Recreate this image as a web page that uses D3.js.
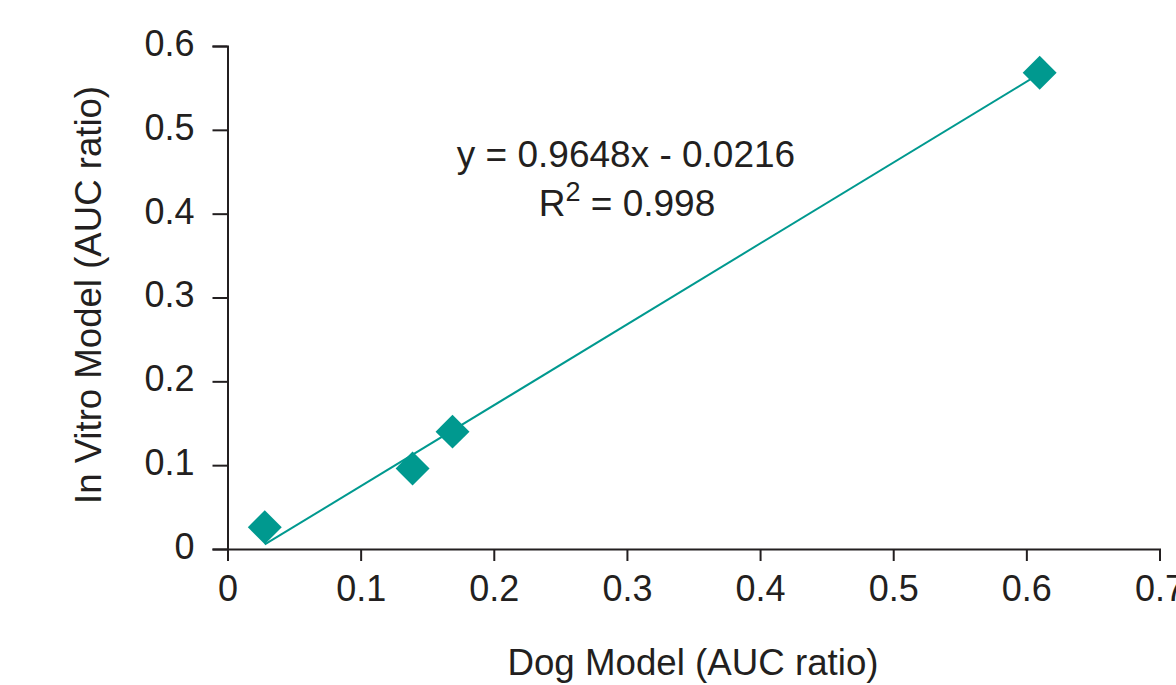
<!DOCTYPE html>
<html><head><meta charset="utf-8">
<script src="https://cdn.jsdelivr.net/npm/d3@7"></script>
<style>
html,body{margin:0;padding:0;background:#fff;}
svg{display:block;}
text{font-family:"Liberation Sans",Arial,Helvetica,sans-serif;fill:#231F20;}
</style></head>
<body>
<svg id="chart" width="1176" height="685"></svg>
<script>
// ---- data ----
const dogModel   = [0.028, 0.139, 0.169, 0.610];
const inVitro    = [0.026, 0.096, 0.140, 0.568];
const xTicks     = [0, 0.1, 0.2, 0.3, 0.4, 0.5, 0.6, 0.7];
const xTickLabels= ["0","0.1","0.2","0.3","0.4","0.5","0.6","0.7"];
const yTicks     = [0, 0.1, 0.2, 0.3, 0.4, 0.5, 0.6];
const yTickLabels= ["0","0.1","0.2","0.3","0.4","0.5","0.6"];
const trendSlope = 0.9648;
const trendIntercept = -0.0216;
const equationText = "y = 0.9648x - 0.0216";
const r2Value = "0.998";
const xTitle = "Dog Model (AUC ratio)";
const yTitle = "In Vitro Model (AUC ratio)";

const teal = "#00998F";
const ink = "#231F20";

const svg = d3.select("#chart");
const x = d3.scaleLinear().domain([0, 0.7]).range([227.5, 1159.5]);
const y = d3.scaleLinear().domain([0, 0.6]).range([549, 46]);

// x axis
const gx = svg.append("g").attr("transform", `translate(0,${y(0)})`)
  .call(d3.axisBottom(x).tickValues(xTicks).tickSizeOuter(0).tickSize(12)
        .tickFormat((d,i)=>xTickLabels[i]));
gx.select(".domain").attr("stroke", ink).attr("stroke-width", 2);
gx.selectAll(".tick line").attr("stroke", ink).attr("stroke-width", 2);
gx.selectAll(".tick text").attr("font-size", 36).attr("y", 26).attr("dy", "0.71em")
  .attr("fill", ink).style("font-family", '"Liberation Sans",Arial,sans-serif');

// y axis
const gy = svg.append("g").attr("transform", `translate(${x(0)},0)`)
  .call(d3.axisLeft(y).tickValues(yTicks).tickSizeOuter(0).tickSize(15)
        .tickFormat((d,i)=>yTickLabels[i]));
gy.select(".domain").attr("stroke", ink).attr("stroke-width", 2);
gy.selectAll(".tick line").attr("stroke", ink).attr("stroke-width", 2);
gy.selectAll(".tick text").attr("font-size", 36).attr("x", -33).attr("dy", "0.26em")
  .attr("fill", ink).style("font-family", '"Liberation Sans",Arial,sans-serif');

// trend line
const x0 = d3.min(dogModel), x1 = d3.max(dogModel);
svg.append("line")
  .attr("x1", x(x0)).attr("y1", y(trendSlope*x0 + trendIntercept))
  .attr("x2", x(x1)).attr("y2", y(trendSlope*x1 + trendIntercept))
  .attr("stroke", teal).attr("stroke-width", 2);

// diamonds
const diamond = d3.symbol().type(d3.symbolSquare).size(24*24);
svg.append("g").selectAll("path").data(dogModel).join("path")
  .attr("d", diamond)
  .attr("transform", (d,i)=>`translate(${x(d)},${y(inVitro[i])}) rotate(45)`)
  .attr("fill", teal);

// equation
svg.append("text").attr("x", 626).attr("y", 167)
  .attr("text-anchor", "middle").attr("font-size", 37).text(equationText);
const r2 = svg.append("text").attr("x", 627).attr("y", 216)
  .attr("text-anchor", "middle").attr("font-size", 37);
r2.append("tspan").text("R");
r2.append("tspan").attr("font-size", 27).attr("dy", -15).text("2");
r2.append("tspan").attr("dy", 15).text(" = " + r2Value);

// axis titles
svg.append("text").attr("x", 693).attr("y", 675).attr("text-anchor", "middle")
  .attr("font-size", 36.7).text(xTitle);
svg.append("text").attr("transform", "translate(101,295) rotate(-90)")
  .attr("text-anchor", "middle").attr("font-size", 36.6).text(yTitle);
</script>
</body></html>
